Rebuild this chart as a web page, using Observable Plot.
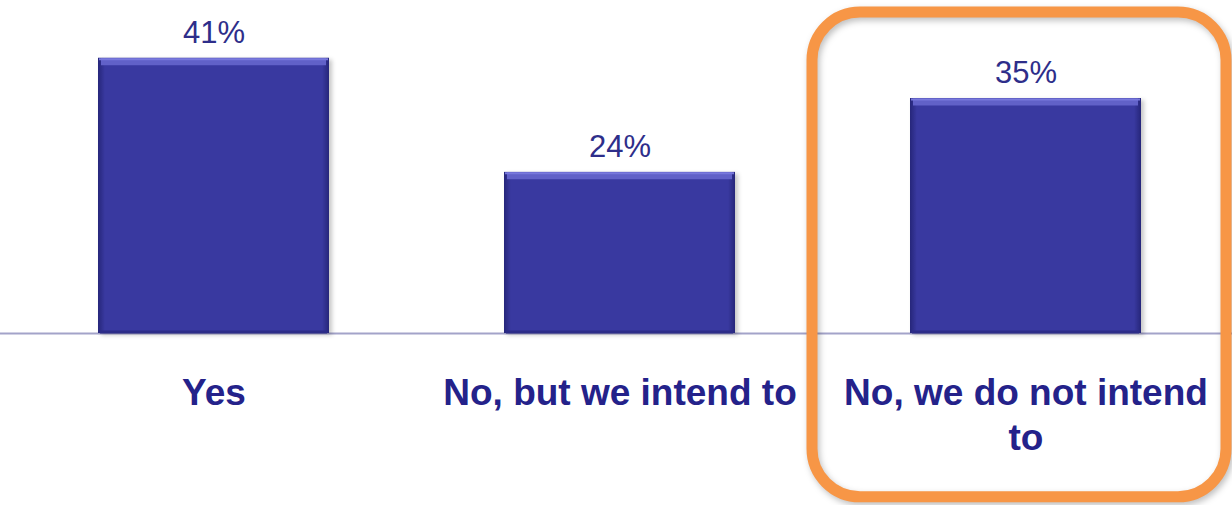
<!DOCTYPE html>
<html>
<head>
<meta charset="utf-8">
<script src="https://cdn.jsdelivr.net/npm/d3@7"></script>
<script src="https://cdn.jsdelivr.net/npm/@observablehq/plot@0.6"></script>
<style>
  html, body { margin: 0; padding: 0; background: #fff; }
  svg { display: block; }
  .bars rect { filter: drop-shadow(3px 2px 2px rgba(0,0,0,0.22)); }
  .hl rect { filter: drop-shadow(2px 3px 3px rgba(0,0,0,0.25)); }
</style>
</head>
<body>
<div id="chart"></div>
<script>
const categories = ["Yes", "No, but we intend to", "No, we do not intend to"];
const values = [41, 24, 35];
const highlighted = ["No, we do not intend to"];

const data = categories.map((c, i) => ({category: c, value: values[i]}));

const defs = () => {
  const d = d3.create("svg:defs");
  const g = d.append("linearGradient").attr("id", "barGrad")
    .attr("x1", 0).attr("x2", 1).attr("y1", 0).attr("y2", 0);
  [["0%", "#26267a"], ["3%", "#3939a0"], ["97%", "#3939a0"], ["100%", "#26267a"]]
    .forEach(([o, c]) => g.append("stop").attr("offset", o).attr("stop-color", c));
  return d.node();
};

const chart = Plot.plot({
  width: 1232,
  height: 505,
  marginTop: 0, marginBottom: 0, marginLeft: 0, marginRight: 0,
  style: {fontFamily: "'Liberation Sans', Arial, sans-serif", background: "#fff"},
  x: {domain: categories, range: [0, 1239], paddingInner: 0.432, paddingOuter: 0.241, axis: null},
  y: {domain: [0, 49.6], range: [333, 0], axis: null},
  marks: [
    defs,
    Plot.ruleY([0], {stroke: "#a3a3c9", strokeWidth: 2}),
    Plot.barY(data, {x: "category", y: "value", fill: "url(#barGrad)", className: "bars"}),
    Plot.tickY(data, {x: "category", y: "value", stroke: "#6161c8", strokeWidth: 7, dy: 3.5, inset: 3}),
    Plot.tickY(data, {x: "category", y: "value", stroke: "#7878dc", strokeWidth: 2, dy: 1, inset: 1}),
    Plot.tickY(data, {x: "category", y: 0, stroke: "#2c2c88", strokeWidth: 3, dy: -1.5, inset: 2}),
    Plot.text(data, {x: "category", y: "value", text: d => d.value + "%", dy: -25,
      fontSize: 31, fill: "#2e2e8a"}),
    Plot.text(categories, {x: d => d, y: 0, text: d => d, lineAnchor: "top", dy: 39,
      lineWidth: 10.6, lineHeight: 1.22, fontSize: 37, fontWeight: "bold", fill: "#24228a"}),
    Plot.barY(highlighted, {x: d => d, y1: -24.4, y2: 47.8, insetLeft: -98, insetRight: -85,
      fill: "none", stroke: "#f79646", strokeWidth: 11, rx: 48, className: "hl"})
  ]
});
document.getElementById("chart").append(chart);
</script>
</body>
</html>
